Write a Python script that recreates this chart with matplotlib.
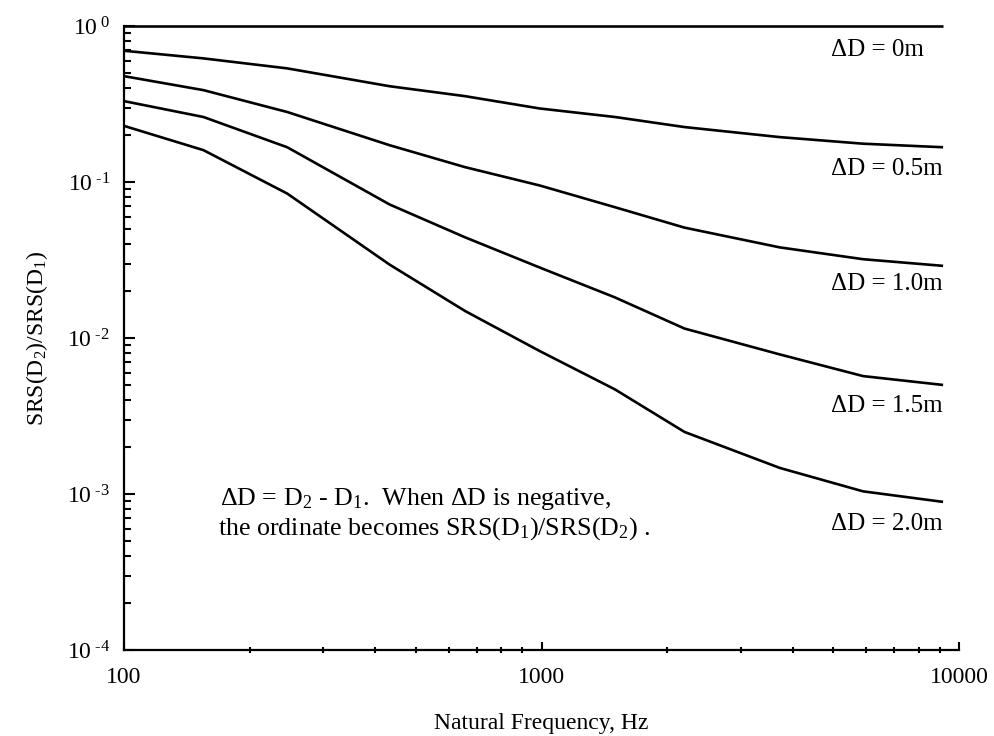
import math
import matplotlib
matplotlib.use("Agg")
import matplotlib.pyplot as plt
from matplotlib.ticker import FixedLocator, LogLocator, NullFormatter, FuncFormatter

plt.rcParams['font.family'] = ['Liberation Serif', 'DejaVu Serif']
plt.rcParams['mathtext.fontset'] = 'custom'
plt.rcParams['mathtext.rm'] = 'Liberation Serif'
plt.rcParams['mathtext.it'] = 'Liberation Serif:italic'

# values
freq = [100, 155, 246, 433, 656, 990, 1500, 2200, 3720, 5890, 9160]
ratio_0m = [1.0] * len(freq)
ratio_05m = [0.694, 0.62, 0.535, 0.411, 0.355, 0.296, 0.261, 0.225, 0.194, 0.176, 0.167]
ratio_10m = [0.477, 0.388, 0.281, 0.172, 0.1245, 0.095, 0.0689, 0.051, 0.0381, 0.032, 0.029]
ratio_15m = [0.33, 0.261, 0.167, 0.0717, 0.0442, 0.0283, 0.0182, 0.0115, 0.00785, 0.0057, 0.005]
ratio_20m = [0.229, 0.16, 0.0843, 0.0295, 0.0149, 0.00825, 0.00468, 0.0025, 0.00147, 0.00104, 0.00089]
curves = [ratio_0m, ratio_05m, ratio_10m, ratio_15m, ratio_20m]
labels = ["\u0394D = 0m", "\u0394D = 0.5m", "\u0394D = 1.0m", "\u0394D = 1.5m", "\u0394D = 2.0m"]
label_y = [0.70, 0.122, 0.0222, 0.00365, 0.00064]

fig = plt.figure(figsize=(9.94, 7.36), dpi=100)
ax = fig.add_axes([124 / 994, 1 - 650 / 736, (959 - 124) / 994, (650 - 26) / 736])

for c in curves:
    ax.plot(freq, c, color='black', lw=1.9, clip_on=False, solid_capstyle='butt')

ax.set_xscale('log')
ax.set_yscale('log')
ax.set_xlim(100, 10000)
ax.set_ylim(1e-4, 1)

for lab, ly in zip(labels, label_y):
    ax.text(4940, ly, lab, fontsize=18, ha='left', va='center')

ax.text(170, 9.35e-4, "\u0394D = D$_2$ - D$_1$.  When \u0394D is negative,", fontsize=18.7,
        ha='left', va='center')
ax.text(168, 6.0e-4, "the ordinate becomes SRS(D$_1$)/SRS(D$_2$) .", fontsize=18.7,
        ha='left', va='center')

for s in ['top', 'right']:
    ax.spines[s].set_visible(False)
for s in ['left', 'bottom']:
    ax.spines[s].set_linewidth(1.6)

ax.xaxis.set_major_locator(FixedLocator([100, 1000, 10000]))
ax.xaxis.set_major_formatter(FuncFormatter(lambda v, p: "%d" % round(v)))
ax.xaxis.set_minor_locator(LogLocator(base=10, subs=range(2, 10)))
ax.xaxis.set_minor_formatter(NullFormatter())
ax.yaxis.set_major_locator(FixedLocator([1e-4, 1e-3, 1e-2, 1e-1, 1]))
ax.yaxis.set_major_formatter(FuncFormatter(
    lambda v, p: r"$10^{\ \text{%d}}$" % round(math.log10(v))))
ax.yaxis.set_minor_locator(LogLocator(base=10, subs=range(2, 10)))
ax.yaxis.set_minor_formatter(NullFormatter())

ax.tick_params(axis='x', which='major', direction='in', length=6, width=1.5, labelsize=17, pad=12)
ax.tick_params(axis='x', which='minor', direction='inout', length=5, width=1.5)
ax.tick_params(axis='y', which='major', direction='in', length=8, width=1.5, labelsize=17, pad=10)
ax.tick_params(axis='y', which='minor', direction='in', length=5, width=1.5)

ax.set_xlabel("Natural Frequency, Hz", fontsize=17, labelpad=18)
ax.set_ylabel("SRS(D$_2$)/SRS(D$_1$)", fontsize=17, labelpad=12)

fig.savefig("out.png", dpi=100)
